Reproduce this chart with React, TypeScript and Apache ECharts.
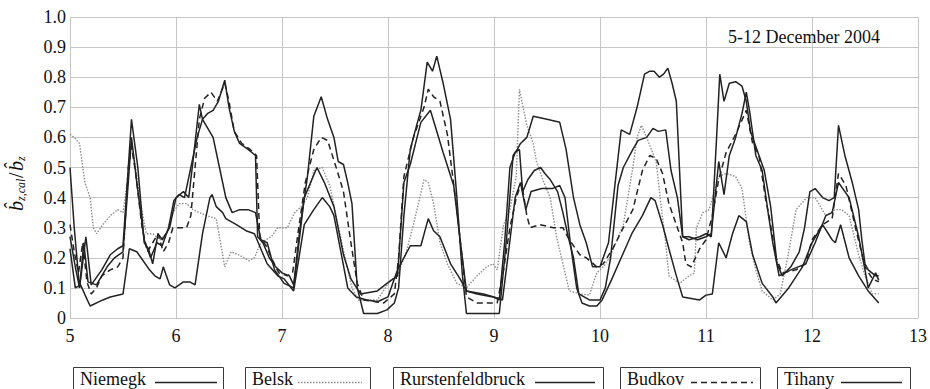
import React, { useEffect, useRef } from "react";
import * as echarts from "echarts";

type P = [number, number];

const seriesNames = ["Niemegk", "Belsk", "Rurstenfeldbruck", "Budkov", "Tihany"];
const xTicks = [5, 6, 7, 8, 9, 10, 11, 12, 13];
const yTicks = [0, 0.1, 0.2, 0.3, 0.4, 0.5, 0.6, 0.7, 0.8, 0.9, 1.0];
const periodLabel = "5-12 December 2004";

const niemegk: P[] = [
  [5.0, 0.5], [5.04, 0.3], [5.09, 0.1], [5.15, 0.27], [5.2, 0.11], [5.3, 0.16], [5.38, 0.21], [5.45, 0.23], [5.5, 0.24],
  [5.55, 0.5], [5.58, 0.66], [5.64, 0.5], [5.7, 0.25], [5.74, 0.23], [5.78, 0.18], [5.83, 0.28], [5.87, 0.26], [5.94, 0.3],
  [6.0, 0.4], [6.07, 0.42], [6.12, 0.4], [6.16, 0.52], [6.22, 0.71], [6.25, 0.66], [6.35, 0.6], [6.41, 0.5], [6.47, 0.4],
  [6.53, 0.35], [6.6, 0.36], [6.68, 0.36], [6.75, 0.35], [6.8, 0.26], [6.86, 0.25], [6.93, 0.16], [7.02, 0.115], [7.11, 0.1],
  [7.16, 0.25], [7.21, 0.4], [7.27, 0.45], [7.33, 0.5], [7.4, 0.45], [7.49, 0.37], [7.58, 0.21], [7.65, 0.13], [7.74, 0.08],
  [7.9, 0.09], [7.99, 0.115], [8.09, 0.14], [8.15, 0.45], [8.21, 0.51], [8.31, 0.65], [8.4, 0.69], [8.52, 0.55], [8.62, 0.44],
  [8.68, 0.26], [8.74, 0.09], [8.84, 0.08], [8.99, 0.07], [9.05, 0.06], [9.1, 0.25], [9.15, 0.5], [9.2, 0.55], [9.24, 0.56],
  [9.27, 0.42], [9.32, 0.46], [9.38, 0.49], [9.44, 0.5], [9.48, 0.48], [9.53, 0.46], [9.6, 0.42], [9.65, 0.35], [9.7, 0.27],
  [9.75, 0.2], [9.8, 0.08], [9.9, 0.06], [10.0, 0.06], [10.05, 0.1], [10.1, 0.2], [10.17, 0.44], [10.22, 0.5], [10.31, 0.56],
  [10.36, 0.59], [10.44, 0.6], [10.5, 0.63], [10.55, 0.62], [10.62, 0.625], [10.67, 0.49], [10.73, 0.4], [10.78, 0.27],
  [10.84, 0.27], [10.92, 0.26], [11.0, 0.27], [11.05, 0.28], [11.12, 0.52], [11.17, 0.41], [11.22, 0.54], [11.28, 0.6],
  [11.34, 0.68], [11.38, 0.75], [11.41, 0.69], [11.47, 0.54], [11.53, 0.49], [11.59, 0.34], [11.63, 0.25], [11.69, 0.14],
  [11.8, 0.16], [11.94, 0.18], [12.03, 0.25], [12.13, 0.34], [12.19, 0.35], [12.25, 0.45], [12.35, 0.4], [12.44, 0.27],
  [12.5, 0.16], [12.53, 0.1], [12.6, 0.15], [12.63, 0.125],
];

const belsk: P[] = [
  [5.0, 0.61], [5.04, 0.6], [5.09, 0.58], [5.14, 0.45], [5.19, 0.4], [5.22, 0.3], [5.25, 0.28], [5.31, 0.31], [5.38, 0.34],
  [5.45, 0.36], [5.5, 0.35], [5.54, 0.45], [5.58, 0.58], [5.62, 0.5], [5.66, 0.39], [5.72, 0.28], [5.78, 0.28], [5.85, 0.26],
  [5.91, 0.28], [5.97, 0.35], [6.03, 0.38], [6.1, 0.38], [6.16, 0.36], [6.22, 0.35], [6.29, 0.34], [6.38, 0.33], [6.46, 0.17],
  [6.52, 0.22], [6.59, 0.21], [6.69, 0.19], [6.74, 0.2], [6.8, 0.25], [6.9, 0.27], [6.96, 0.3], [7.05, 0.3], [7.12, 0.35],
  [7.18, 0.37], [7.24, 0.4], [7.3, 0.49], [7.38, 0.5], [7.45, 0.44], [7.57, 0.24], [7.66, 0.1], [7.72, 0.06], [7.8, 0.06],
  [7.9, 0.06], [8.02, 0.125], [8.09, 0.14], [8.18, 0.23], [8.24, 0.31], [8.34, 0.46], [8.38, 0.45], [8.43, 0.38], [8.49, 0.25],
  [8.56, 0.18], [8.65, 0.115], [8.74, 0.1], [8.84, 0.14], [8.93, 0.17], [8.99, 0.18], [9.03, 0.16], [9.09, 0.31], [9.15, 0.36],
  [9.21, 0.47], [9.24, 0.76], [9.31, 0.64], [9.37, 0.58], [9.4, 0.52], [9.46, 0.46], [9.53, 0.4], [9.59, 0.27], [9.65, 0.18],
  [9.71, 0.09], [9.81, 0.08], [9.9, 0.076], [9.97, 0.15], [10.03, 0.17], [10.09, 0.2], [10.22, 0.31], [10.31, 0.5],
  [10.35, 0.6], [10.39, 0.64], [10.44, 0.6], [10.53, 0.52], [10.58, 0.36], [10.62, 0.25], [10.65, 0.14], [10.75, 0.115],
  [10.84, 0.14], [10.89, 0.15], [10.91, 0.3], [10.97, 0.35], [11.03, 0.36], [11.12, 0.47], [11.19, 0.48], [11.28, 0.47],
  [11.34, 0.43], [11.41, 0.25], [11.47, 0.16], [11.53, 0.09], [11.63, 0.06], [11.7, 0.08], [11.77, 0.2], [11.85, 0.36],
  [11.95, 0.4], [12.03, 0.4], [12.13, 0.34], [12.22, 0.36], [12.28, 0.36], [12.35, 0.34], [12.44, 0.21], [12.5, 0.14],
  [12.57, 0.08], [12.63, 0.08],
];

const rurstenfeldbruck: P[] = [
  [5.0, 0.27], [5.05, 0.17], [5.09, 0.1], [5.13, 0.25], [5.17, 0.12], [5.25, 0.11], [5.35, 0.17], [5.42, 0.2], [5.5, 0.22],
  [5.55, 0.45], [5.58, 0.6], [5.63, 0.45], [5.7, 0.26], [5.76, 0.2], [5.82, 0.25], [5.87, 0.24], [5.93, 0.3], [5.98, 0.39],
  [6.03, 0.41], [6.08, 0.4], [6.14, 0.5], [6.2, 0.6], [6.25, 0.66], [6.3, 0.68], [6.35, 0.69], [6.4, 0.72], [6.46, 0.79],
  [6.5, 0.7], [6.55, 0.62], [6.6, 0.58], [6.68, 0.56], [6.75, 0.54], [6.77, 0.27], [6.82, 0.25], [6.88, 0.2], [6.94, 0.17],
  [7.0, 0.15], [7.07, 0.14], [7.11, 0.11], [7.17, 0.3], [7.24, 0.47], [7.3, 0.67], [7.37, 0.735], [7.43, 0.66], [7.49, 0.6],
  [7.53, 0.52], [7.58, 0.51], [7.62, 0.45], [7.66, 0.38], [7.71, 0.1], [7.77, 0.015], [7.9, 0.015], [7.99, 0.027],
  [8.06, 0.05], [8.1, 0.1], [8.15, 0.34], [8.21, 0.56], [8.27, 0.64], [8.31, 0.69], [8.37, 0.85], [8.42, 0.82], [8.46, 0.87],
  [8.52, 0.78], [8.59, 0.66], [8.65, 0.4], [8.7, 0.15], [8.74, 0.015], [8.9, 0.015], [9.05, 0.015], [9.12, 0.27],
  [9.18, 0.54], [9.22, 0.56], [9.25, 0.58], [9.31, 0.6], [9.37, 0.67], [9.5, 0.66], [9.62, 0.65], [9.68, 0.56], [9.75, 0.4],
  [9.81, 0.31], [9.87, 0.25], [9.93, 0.17], [10.0, 0.17], [10.08, 0.25], [10.14, 0.44], [10.2, 0.625], [10.28, 0.61],
  [10.35, 0.7], [10.42, 0.81], [10.47, 0.82], [10.51, 0.82], [10.56, 0.8], [10.6, 0.81], [10.64, 0.83], [10.68, 0.78],
  [10.72, 0.72], [10.78, 0.27], [10.84, 0.26], [10.94, 0.27], [11.0, 0.28], [11.05, 0.27], [11.1, 0.6], [11.13, 0.81],
  [11.17, 0.72], [11.22, 0.78], [11.28, 0.785], [11.34, 0.77], [11.38, 0.72], [11.42, 0.62], [11.48, 0.56], [11.55, 0.49],
  [11.61, 0.37], [11.67, 0.18], [11.72, 0.14], [11.8, 0.17], [11.88, 0.22], [11.93, 0.3], [11.98, 0.42], [12.03, 0.43],
  [12.1, 0.4], [12.16, 0.39], [12.21, 0.4], [12.25, 0.64], [12.31, 0.54], [12.38, 0.45], [12.44, 0.36], [12.47, 0.26],
  [12.5, 0.18], [12.53, 0.16], [12.6, 0.14], [12.63, 0.14],
];

const budkov: P[] = [
  [5.0, 0.31], [5.04, 0.22], [5.08, 0.15], [5.12, 0.25], [5.16, 0.12], [5.2, 0.08], [5.25, 0.1], [5.3, 0.14], [5.38, 0.16],
  [5.45, 0.17], [5.5, 0.2], [5.55, 0.5], [5.58, 0.57], [5.62, 0.48], [5.68, 0.3], [5.73, 0.22], [5.78, 0.25], [5.83, 0.28],
  [5.88, 0.22], [5.93, 0.25], [5.97, 0.3], [6.04, 0.3], [6.1, 0.3], [6.14, 0.34], [6.18, 0.5], [6.22, 0.66], [6.27, 0.73],
  [6.33, 0.75], [6.39, 0.72], [6.46, 0.78], [6.5, 0.72], [6.55, 0.62], [6.62, 0.58], [6.7, 0.56], [6.76, 0.54], [6.79, 0.27],
  [6.85, 0.24], [6.9, 0.2], [6.97, 0.15], [7.05, 0.14], [7.1, 0.15], [7.15, 0.28], [7.22, 0.45], [7.3, 0.56], [7.37, 0.6],
  [7.43, 0.59], [7.52, 0.49], [7.58, 0.42], [7.65, 0.25], [7.71, 0.115], [7.77, 0.06], [7.96, 0.05], [8.06, 0.08],
  [8.1, 0.2], [8.15, 0.47], [8.24, 0.6], [8.34, 0.7], [8.38, 0.76], [8.43, 0.735], [8.49, 0.72], [8.56, 0.61], [8.65, 0.36],
  [8.74, 0.07], [8.84, 0.05], [9.03, 0.05], [9.09, 0.16], [9.15, 0.3], [9.21, 0.4], [9.26, 0.45], [9.31, 0.34], [9.34, 0.3],
  [9.43, 0.31], [9.56, 0.3], [9.65, 0.3], [9.71, 0.26], [9.81, 0.21], [9.87, 0.2], [9.97, 0.17], [10.03, 0.18],
  [10.12, 0.23], [10.22, 0.3], [10.31, 0.36], [10.4, 0.49], [10.47, 0.54], [10.53, 0.53], [10.59, 0.48], [10.65, 0.38],
  [10.72, 0.31], [10.78, 0.25], [10.81, 0.18], [10.86, 0.17], [10.94, 0.23], [11.0, 0.26], [11.06, 0.34], [11.12, 0.46],
  [11.19, 0.55], [11.28, 0.61], [11.38, 0.69], [11.44, 0.58], [11.5, 0.54], [11.56, 0.4], [11.6, 0.33], [11.66, 0.2],
  [11.72, 0.15], [11.85, 0.16], [11.94, 0.18], [12.0, 0.26], [12.1, 0.31], [12.19, 0.33], [12.25, 0.48], [12.32, 0.44],
  [12.41, 0.3], [12.5, 0.17], [12.57, 0.13], [12.63, 0.12],
];

const tihany: P[] = [
  [5.0, 0.23], [5.05, 0.1], [5.1, 0.11], [5.15, 0.07], [5.19, 0.04], [5.31, 0.06], [5.38, 0.07], [5.5, 0.08], [5.56, 0.23],
  [5.63, 0.22], [5.67, 0.2], [5.75, 0.16], [5.8, 0.14], [5.85, 0.13], [5.88, 0.17], [5.94, 0.11], [5.99, 0.1], [6.07, 0.12],
  [6.13, 0.12], [6.18, 0.11], [6.25, 0.28], [6.32, 0.4], [6.34, 0.41], [6.38, 0.37], [6.44, 0.35], [6.47, 0.33], [6.57, 0.31],
  [6.66, 0.29], [6.74, 0.28], [6.8, 0.23], [6.86, 0.18], [6.96, 0.14], [7.02, 0.13], [7.11, 0.09], [7.21, 0.31], [7.3, 0.36],
  [7.38, 0.4], [7.45, 0.37], [7.49, 0.34], [7.55, 0.23], [7.62, 0.1], [7.7, 0.07], [7.8, 0.06], [7.9, 0.054], [8.0, 0.07],
  [8.09, 0.16], [8.21, 0.24], [8.31, 0.24], [8.38, 0.33], [8.43, 0.29], [8.49, 0.27], [8.59, 0.18], [8.68, 0.13],
  [8.74, 0.09], [8.9, 0.08], [9.0, 0.07], [9.08, 0.06], [9.13, 0.2], [9.2, 0.4], [9.25, 0.45], [9.3, 0.36], [9.35, 0.42],
  [9.45, 0.43], [9.55, 0.43], [9.62, 0.44], [9.67, 0.4], [9.72, 0.25], [9.78, 0.1], [9.83, 0.05], [9.9, 0.04], [9.97, 0.04],
  [10.02, 0.06], [10.1, 0.12], [10.2, 0.2], [10.3, 0.28], [10.4, 0.34], [10.48, 0.4], [10.52, 0.39], [10.59, 0.31],
  [10.65, 0.23], [10.72, 0.14], [10.78, 0.07], [10.94, 0.06], [11.0, 0.076], [11.06, 0.08], [11.12, 0.25], [11.19, 0.2],
  [11.25, 0.28], [11.31, 0.34], [11.38, 0.32], [11.44, 0.21], [11.53, 0.115], [11.63, 0.07], [11.66, 0.05], [11.78, 0.1],
  [11.91, 0.17], [12.0, 0.25], [12.1, 0.31], [12.19, 0.26], [12.22, 0.25], [12.27, 0.31], [12.35, 0.2], [12.44, 0.14],
  [12.53, 0.09], [12.63, 0.05],
];

const SERIF = "Times New Roman, Liberation Serif, DejaVu Serif, serif";
const INK = "#222222";

export default function App() {
  const ref = useRef<HTMLDivElement>(null);

  useEffect(() => {
    if (!ref.current) return;
    const chart = echarts.init(ref.current, undefined, { renderer: "svg" });

    const dataSets = [niemegk, belsk, rurstenfeldbruck, budkov, tihany];
    const styles: any[] = [
      { color: INK, width: 1.5, type: "solid" },
      { color: "#8c8c8c", width: 1.4, type: [1.5, 1.5] },
      { color: INK, width: 1.5, type: "solid" },
      { color: INK, width: 1.5, type: [6, 4] },
      { color: INK, width: 1.5, type: "solid" },
    ];

    const series = seriesNames.map((name, i) => ({
      name,
      type: "line",
      data: dataSets[i],
      showSymbol: false,
      symbol: "none",
      lineStyle: styles[i],
      itemStyle: { color: styles[i].color },
      z: i === 1 ? 1 : 2,
    }));

    const boxX = [73, 245, 393, 620, 777];
    const boxW = [150, 125, 210, 140, 133];
    const lineX1 = [155, 298, 535, 691, 841];
    const lineX2 = [217, 362, 595, 753, 902];
    const legendEls: any[] = [];
    seriesNames.forEach((name, i) => {
      legendEls.push({
        type: "rect",
        shape: { x: boxX[i] + 0.5, y: 367.5, width: boxW[i], height: 30 },
        style: { fill: "#fff", stroke: "#3a3a3a", lineWidth: 1 },
        z: 10,
      });
      legendEls.push({
        type: "text",
        x: boxX[i] + 7,
        y: 378.5,
        style: { text: name, font: "18px " + SERIF, fill: "#111", verticalAlign: "middle", align: "left" },
        z: 11,
      });
      legendEls.push({
        type: "line",
        shape: { x1: lineX1[i], y1: 382.5, x2: lineX2[i], y2: 382.5 },
        style: { stroke: styles[i].color, lineWidth: styles[i].width, lineDash: Array.isArray(styles[i].type) ? styles[i].type : null },
        z: 11,
      });
    });

    const yLabel = {
      type: "group",
      x: 16,
      y: 184,
      rotation: Math.PI / 2,
      children: [
        { type: "text", x: -27, y: 0, style: { text: "b\u0302", font: "italic 20px " + SERIF, fill: "#111", verticalAlign: "middle" } },
        { type: "text", x: -17, y: 5, style: { text: "z,cal", font: "italic 12px " + SERIF, fill: "#111", verticalAlign: "middle" } },
        { type: "text", x: 6, y: 0, style: { text: "/", font: "20px " + SERIF, fill: "#111", verticalAlign: "middle" } },
        { type: "text", x: 13, y: 0, style: { text: "b\u0302", font: "italic 20px " + SERIF, fill: "#111", verticalAlign: "middle" } },
        { type: "text", x: 23, y: 5, style: { text: "z", font: "italic 12px " + SERIF, fill: "#111", verticalAlign: "middle" } },
      ],
    };

    chart.setOption({
      animation: false,
      backgroundColor: "#fff",
      textStyle: { fontFamily: SERIF },
      grid: { left: 70, right: 9, top: 17, bottom: 71, containLabel: false },
      xAxis: {
        type: "value",
        min: xTicks[0],
        max: xTicks[xTicks.length - 1],
        interval: 1,
        axisLine: { show: false },
        axisTick: { show: false },
        splitLine: { show: true, lineStyle: { color: "#c6c6c6", width: 1 } },
        axisLabel: { color: "#111", fontFamily: SERIF, fontSize: 18, margin: 9, showMaxLabel: true, showMinLabel: true },
      },
      yAxis: {
        type: "value",
        min: yTicks[0],
        max: yTicks[yTicks.length - 1],
        interval: 0.1,
        axisLine: { show: true, lineStyle: { color: "#c6c6c6", width: 1 } },
        axisTick: { show: false },
        splitLine: { show: true, lineStyle: { color: "#c6c6c6", width: 1 } },
        axisLabel: {
          color: "#111",
          fontFamily: SERIF,
          fontSize: 18,
          margin: 4,
          formatter: (v: number) => (Math.abs(v) < 1e-9 ? "0" : v.toFixed(1)),
        },
      },
      graphic: [
        {
          type: "text",
          x: 728,
          y: 37,
          style: { text: periodLabel, font: "18px " + SERIF, fill: "#111", verticalAlign: "middle" },
          z: 5,
        },
        yLabel,
        ...legendEls,
      ],
      series,
    });

    return () => chart.dispose();
  }, []);

  return <div ref={ref} style={{ width: 930, height: 389, position: "absolute", left: 0, top: 0 }} />;
}
